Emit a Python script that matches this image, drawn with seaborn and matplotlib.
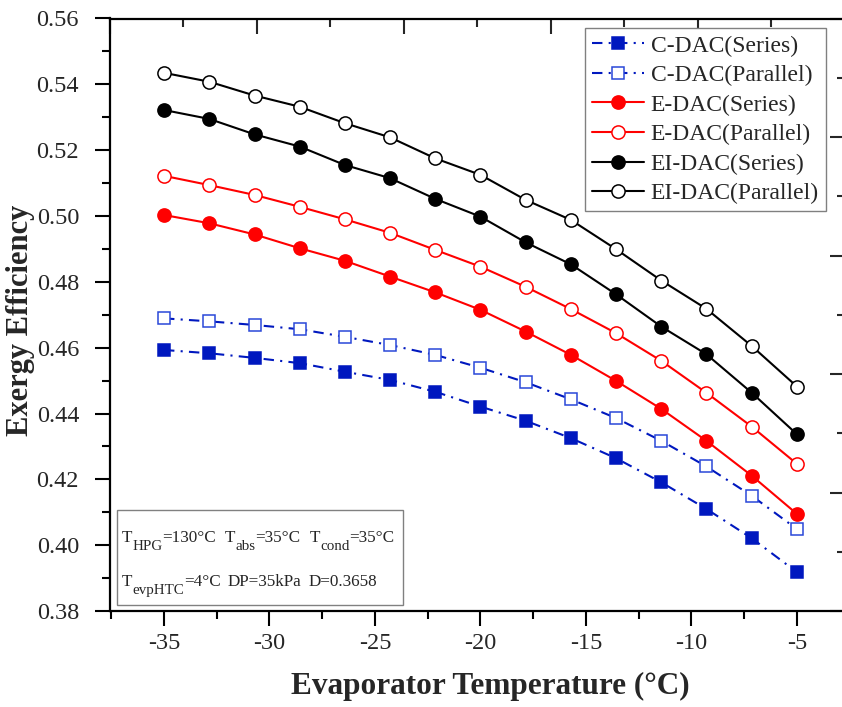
import matplotlib
matplotlib.use("Agg")
import matplotlib.pyplot as plt
from matplotlib.ticker import MultipleLocator, NullFormatter
from matplotlib.lines import Line2D
from matplotlib.patches import Rectangle
import seaborn as sns
import pandas as pd

# Evaporator temperature (°C)
evap_temp = [-35, -32.86, -30.71, -28.57, -26.43, -24.29, -22.14, -20,
             -17.86, -15.71, -13.57, -11.43, -9.29, -7.14, -5]

# Exergy efficiency of each configuration
c_dac_series = [0.4593, 0.4583, 0.4569, 0.4553, 0.4527, 0.4502, 0.4466, 0.4421,
                0.4378, 0.4325, 0.4264, 0.4191, 0.4110, 0.4021, 0.3918]
c_dac_parallel = [0.4689, 0.4680, 0.4669, 0.4656, 0.4633, 0.4608, 0.4578, 0.4539,
                  0.4495, 0.4443, 0.4386, 0.4317, 0.4239, 0.4150, 0.4049]
e_dac_series = [0.5003, 0.4978, 0.4944, 0.4902, 0.4864, 0.4816, 0.4768, 0.4715,
                0.4649, 0.4578, 0.4499, 0.4414, 0.4317, 0.4211, 0.4095]
e_dac_parallel = [0.5122, 0.5094, 0.5064, 0.5028, 0.4990, 0.4949, 0.4897, 0.4846,
                  0.4785, 0.4717, 0.4644, 0.4560, 0.4463, 0.4360, 0.4247]
ei_dac_series = [0.5322, 0.5295, 0.5248, 0.5211, 0.5155, 0.5115, 0.5052, 0.4998,
                 0.4920, 0.4853, 0.4762, 0.4664, 0.4580, 0.4463, 0.4337]
ei_dac_parallel = [0.5435, 0.5408, 0.5366, 0.5332, 0.5282, 0.5239, 0.5175, 0.5125,
                   0.5049, 0.4988, 0.4899, 0.4804, 0.4718, 0.4605, 0.4482]

series_labels = ["C-DAC(Series)", "C-DAC(Parallel)", "E-DAC(Series)",
                 "E-DAC(Parallel)", "EI-DAC(Series)", "EI-DAC(Parallel)"]
series_values = [c_dac_series, c_dac_parallel, e_dac_series,
                 e_dac_parallel, ei_dac_series, ei_dac_parallel]

x_ticks = [-35, -30, -25, -20, -15, -10, -5]
y_ticks = [0.38, 0.40, 0.42, 0.44, 0.46, 0.48, 0.50, 0.52, 0.54, 0.56]

# Operating conditions shown in the note box: (text, is_subscript) pieces per line
note_line1 = [[("T", False), ("HPG", True), ("=130°C", False)],
              [("T", False), ("abs", True), ("=35°C", False)],
              [("T", False), ("cond", True), ("=35°C", False)]]
note_line2 = [[("T", False), ("evpHTC", True), ("=4°C", False)],
              [("DP=35kPa", False)],
              [("D=0.3658", False)]]

sns.set_style("white")
plt.rcParams["font.family"] = ["Liberation Serif", "DejaVu Serif"]

blue = "#0018bf"
red = "#ff0000"
black = "#000000"
dashdot = (0, (5, 3, 1, 3))

styles = [
    dict(color=blue, marker="s", ms=8.5, mfc=blue, mec=blue, ls=dashdot),
    dict(color=blue, marker="s", ms=8.5, mfc="white", mec="#2a48d8", ls=dashdot),
    dict(color=red, marker="o", ms=9.5, mfc=red, mec=red, ls="-"),
    dict(color=red, marker="o", ms=9.5, mfc="white", mec=red, ls="-"),
    dict(color=black, marker="o", ms=9.5, mfc=black, mec=black, ls="-"),
    dict(color=black, marker="o", ms=9.5, mfc="white", mec=black, ls="-"),
]

W, H = 842, 707
fig = plt.figure(figsize=(W / 100, H / 100), dpi=100)
left_px, right_px, top_px, bottom_px = 110, 845, 18.5, 611
ax = fig.add_axes([left_px / W, 1 - bottom_px / H,
                   (right_px - left_px) / W, (bottom_px - top_px) / H])


def ax_x(px):
    return (px - left_px) / (right_px - left_px)


def ax_y(py):
    return (bottom_px - py) / (bottom_px - top_px)


handles = []
for label, vals, st in zip(series_labels, series_values, styles):
    df = pd.DataFrame({"T": evap_temp, "eff": vals})
    sns.lineplot(data=df, x="T", y="eff", ax=ax, color=st["color"],
                 linestyle=st["ls"], linewidth=1.5, marker=st["marker"],
                 markersize=st["ms"], markerfacecolor=st["mfc"],
                 markeredgecolor=st["mec"], markeredgewidth=1.1,
                 legend=False, zorder=3)
    handles.append(Line2D([], [], color=st["color"], linestyle=st["ls"],
                          linewidth=1.5, marker=st["marker"],
                          markersize=st["ms"], markerfacecolor=st["mfc"],
                          markeredgecolor=st["mec"], markeredgewidth=1.1,
                          label=label))

ax.set_xlim(-37.56, -2.72)
ax.set_ylim(0.38, 0.56)
ax.set_xticks(x_ticks)
ax.set_yticks(y_ticks)
ax.set_xticklabels([str(t) for t in x_ticks])
ax.set_yticklabels([f"{t:.2f}" for t in y_ticks])
ax.xaxis.set_minor_locator(MultipleLocator(2.5))
ax.yaxis.set_minor_locator(MultipleLocator(0.01))
ax.tick_params(axis="both", which="major", direction="out", length=11,
               width=1.5, labelsize=17.5, color="black")
ax.tick_params(axis="both", which="minor", direction="out", length=5.5,
               width=1.5, color="black")
ax.tick_params(axis="x", which="major", pad=5)
ax.tick_params(axis="y", which="major", pad=11.3)
for sp in ax.spines.values():
    sp.set_linewidth(1.6)
    sp.set_color("black")

ax.set_xlabel("Evaporator Temperature (°C)", fontsize=22.5, fontweight="bold")
ax.set_ylabel("Exergy Efficiency", fontsize=22, fontweight="bold")
ax.xaxis.set_label_coords(ax_x(490), -0.103)
ax.yaxis.set_label_coords(ax_x(35), 0.49)

# Unlabelled inward ticks on the top and right frame
top = ax.twiny()
top.set_xlim(0, 5)
top.xaxis.set_major_locator(MultipleLocator(1))
top.xaxis.set_minor_locator(MultipleLocator(0.5))
top.xaxis.set_major_formatter(NullFormatter())
top.tick_params(axis="x", which="major", direction="in", length=11, width=1.5)
top.tick_params(axis="x", which="minor", direction="in", length=5.5, width=1.5)
right = ax.twinx()
right.set_ylim(0, 5)
right.yaxis.set_major_locator(MultipleLocator(1))
right.yaxis.set_minor_locator(MultipleLocator(0.5))
right.yaxis.set_major_formatter(NullFormatter())
right.tick_params(axis="y", which="major", direction="in", length=11, width=1.5)
right.tick_params(axis="y", which="minor", direction="in", length=5.5, width=1.5)
for a in (top, right):
    for sp in a.spines.values():
        sp.set_visible(False)
top.set_zorder(0)
right.set_zorder(0)
ax.set_zorder(2)
ax.patch.set_visible(False)

leg = ax.legend(handles=handles, loc="upper right",
                bbox_to_anchor=(ax_x(826), ax_y(28)),
                fontsize=17, frameon=True, fancybox=False, framealpha=1,
                edgecolor="#808080", handlelength=2.2, handletextpad=0.3,
                labelspacing=0.34, borderpad=0.3, borderaxespad=0)
leg.get_frame().set_linewidth(1.0)

# Note box with operating conditions
ax.add_patch(Rectangle((ax_x(117), ax_y(605)), ax_x(403) - ax_x(117),
                       ax_y(510) - ax_y(605), transform=ax.transAxes,
                       facecolor="white", edgecolor="#808080", linewidth=1.0,
                       zorder=4))

renderer = fig.canvas.get_renderer()
main_size, sub_size, sub_drop = 12.3, 10.8, 8


def draw_note_line(groups, x_px, base_px, gap_px):
    x = x_px
    for gi, group in enumerate(groups):
        if gi > 0:
            x += gap_px
        for text, is_sub in group:
            y = base_px + (sub_drop if is_sub else 0)
            t = fig.text(x / W, 1 - y / H, text,
                         fontsize=sub_size if is_sub else main_size,
                         ha="left", va="baseline", zorder=5)
            x += t.get_window_extent(renderer).width


draw_note_line(note_line1, 122, 542, 9)
draw_note_line(note_line2, 122, 586, 7)

fig.savefig("out.png", dpi=100)
